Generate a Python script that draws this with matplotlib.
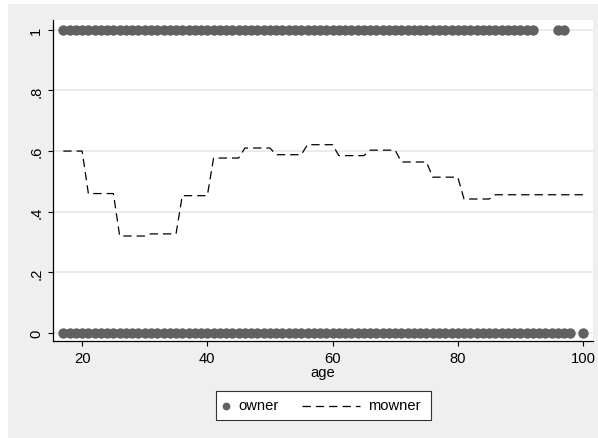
import numpy as np
import matplotlib
matplotlib.use("Agg")
import matplotlib.pyplot as plt
from matplotlib.patches import Rectangle
from matplotlib.lines import Line2D

plt.rcParams['font.family'] = ['Liberation Sans', 'DejaVu Sans']
plt.rcParams['lines.scale_dashes'] = False

# Home ownership (0/1) by age of household head
owner_yes_ages = list(range(17, 93)) + [96, 97]
owner_no_ages = list(range(17, 99)) + [100]

# Mean ownership within age groups
group_starts = [17, 21, 26, 31, 36, 41, 46, 51, 56, 61, 66, 71, 76, 81, 86]
group_ends   = [20, 25, 30, 35, 40, 45, 50, 55, 60, 65, 70, 75, 80, 85, 100]
group_means  = [0.600, 0.460, 0.320, 0.327, 0.453, 0.577, 0.610, 0.588,
                0.621, 0.585, 0.603, 0.564, 0.514, 0.442, 0.456]

mowner_age = []
mowner_val = []
for s, e, m in zip(group_starts, group_ends, group_means):
    for a in range(s, e + 1):
        mowner_age.append(a)
        mowner_val.append(m)

yticks = [0, 0.2, 0.4, 0.6, 0.8, 1.0]
ytick_labels = ["0", ".2", ".4", ".6", ".8", "1"]
xticks = [20, 40, 60, 80, 100]

FS = 10.6
W, H = 598, 439
fig = plt.figure(figsize=(W / 100, H / 100), dpi=100)
fig.patch.set_facecolor('white')
bg = '#efefef'
fig.patches.append(Rectangle((8 / W, 0), 1, 1 - 5 / H, transform=fig.transFigure,
                             facecolor=bg, edgecolor='none', zorder=-10))

ax = fig.add_axes([53 / W, 1 - 341.7 / H, (593 - 53) / W, (341.7 - 20.7) / H])
ax.set_facecolor('white')
ax.set_xlim(15.35, 101.6)
ax.set_ylim(-0.025, 1.033)

for y in yticks:
    ax.axhline(y, color='#e6e6e6', lw=1.1, zorder=0)

dot_color = '#616161'
ax.scatter(owner_yes_ages, [1] * len(owner_yes_ages), s=56, color=dot_color,
           linewidths=0, zorder=2)
ax.scatter(owner_no_ages, [0] * len(owner_no_ages), s=56, color=dot_color,
           linewidths=0, zorder=2)
ax.plot(mowner_age, mowner_val, color='black', lw=0.9, dashes=(6, 3.6), zorder=3)

for side in ['top', 'right']:
    ax.spines[side].set_visible(False)
for side in ['left', 'bottom']:
    ax.spines[side].set_linewidth(0.9)
    ax.spines[side].set_color('black')

ax.set_yticks(yticks)
ax.set_yticklabels(ytick_labels, rotation=90, va='center')
ax.set_xticks(xticks)
ax.tick_params(axis='both', direction='out', length=3.6, width=0.8,
               labelsize=FS, colors='black')
ax.tick_params(axis='y', pad=3.5)
ax.tick_params(axis='x', pad=3.5)
ax.set_xlabel('age', fontsize=FS, labelpad=0.5)

# legend box
lx0, lx1, ly0, ly1 = 215.7, 430.7, 392.3, 420.7
fig.patches.append(Rectangle((lx0 / W, 1 - ly1 / H), (lx1 - lx0) / W, (ly1 - ly0) / H,
                             transform=fig.transFigure, facecolor='white',
                             edgecolor='#333333', lw=0.8))
ly = 1 - 406.5 / H
fig.lines.append(Line2D([225.7 / W], [ly], transform=fig.transFigure, marker='o',
                        markersize=5.6, color=dot_color, markeredgewidth=0, ls='none'))
fig.text(238 / W, ly, 'owner', fontsize=FS, va='center', ha='left')
fig.lines.append(Line2D([302 / W, 360 / W], [ly, ly], transform=fig.transFigure,
                        color='black', lw=0.9, dashes=(6, 3.6)))
fig.text(368 / W, ly, 'mowner', fontsize=FS, va='center', ha='left')

fig.savefig('out.png', dpi=100)
